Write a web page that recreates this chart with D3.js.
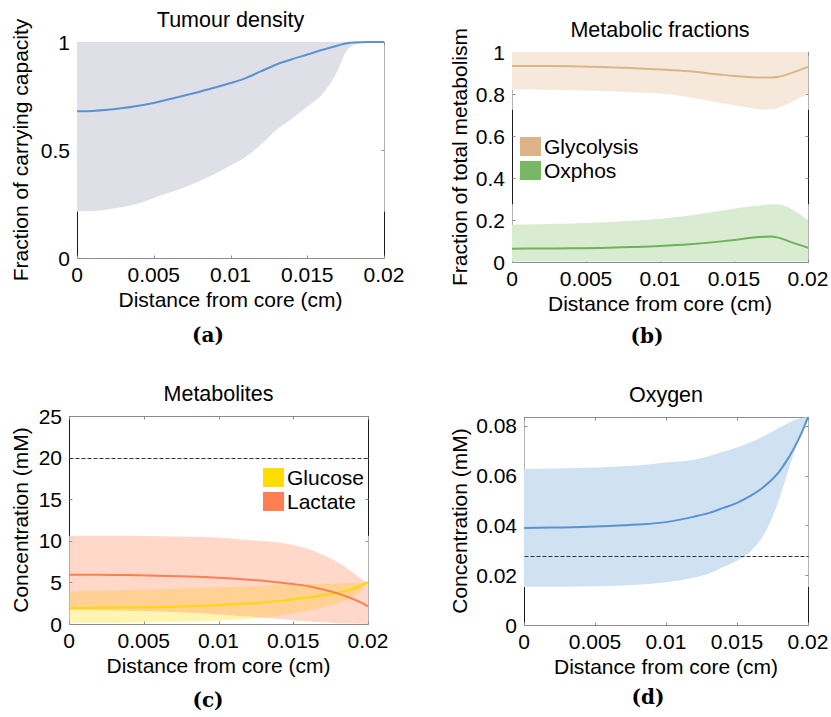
<!DOCTYPE html>
<html><head><meta charset="utf-8">
<script src="https://cdn.jsdelivr.net/npm/d3@7"></script>
<style>
body{margin:0;background:#fff}
svg text{font-family:"Liberation Sans",Arial,Helvetica,sans-serif;fill:#000}
</style>
</head><body>
<svg id="chart" width="831" height="717"></svg>
<script>
// ---------- shared ----------
const xTicks = [0, 0.005, 0.01, 0.015, 0.02];
const xTickLabels = ["0", "0.005", "0.01", "0.015", "0.02"];
const xAxisTitle = "Distance from core (cm)";

// ---------- (a) Tumour density ----------
const densityX     = [0,0.001,0.002,0.003,0.004,0.005,0.006,0.007,0.008,0.009,0.010,0.011,0.012,0.013,0.014,0.015,0.016,0.017,0.0175,0.018,0.019,0.020];
const densityMean  = [0.679,0.681,0.686,0.694,0.705,0.718,0.735,0.752,0.770,0.789,0.810,0.833,0.865,0.896,0.920,0.942,0.964,0.984,0.993,0.998,1.0,1.0];
const densityLower = [0.216,0.218,0.225,0.236,0.252,0.278,0.302,0.328,0.357,0.390,0.428,0.469,0.527,0.594,0.645,0.700,0.760,0.870,0.952,0.985,0.998,1.0];
const densityUpper = [1,1,1,1,1,1,1,1,1,1,1,1,1,1,1,1,1,1,1,1,1,1];
const densityYTicks = [0, 0.5, 1];
const densityYTickLabels = ["0", "0.5", "1"];

// ---------- (b) Metabolic fractions ----------
const metabX      = [0,0.002,0.004,0.006,0.008,0.010,0.012,0.014,0.015,0.016,0.017,0.0175,0.018,0.019,0.020];
const glycoMean   = [0.933,0.933,0.932,0.929,0.924,0.917,0.908,0.893,0.886,0.881,0.878,0.878,0.882,0.903,0.929];
const glycoLower  = [0.821,0.820,0.818,0.814,0.808,0.802,0.785,0.758,0.746,0.735,0.726,0.727,0.735,0.765,0.802];
const glycoUpper  = [1,1,1,1,1,1,1,1,1,1,1,1,1,1,1];
const oxphosMean  = [0.0635,0.064,0.065,0.067,0.071,0.076,0.084,0.097,0.105,0.114,0.120,0.122,0.116,0.091,0.068];
const oxphosLower = [0.002,0.002,0.002,0.002,0.002,0.002,0.002,0.002,0.002,0.002,0.002,0.002,0.002,0.002,0.002];
const oxphosUpper = [0.179,0.180,0.183,0.188,0.196,0.206,0.222,0.243,0.254,0.264,0.272,0.275,0.274,0.248,0.198];
const metabYTicks = [0, 0.2, 0.4, 0.6, 0.8, 1];
const metabYTickLabels = ["0", "0.2", "0.4", "0.6", "0.8", "1"];
const metabLegend = ["Glycolysis", "Oxphos"];

// ---------- (c) Metabolites ----------
const metaboliteX  = [0,0.002,0.004,0.006,0.008,0.010,0.012,0.014,0.015,0.016,0.017,0.018,0.019,0.0195,0.020];
const glucoseMean  = [1.92,1.94,1.97,2.02,2.12,2.25,2.45,2.75,2.95,3.20,3.45,3.75,4.25,4.60,5.00];
const glucoseLower = [0.10,0.12,0.15,0.20,0.28,0.40,0.60,1.00,1.30,1.60,2.00,2.50,3.30,4.00,5.00];
const glucoseUpper = [3.92,4.00,4.10,4.20,4.30,4.42,4.55,4.68,4.75,4.80,4.85,4.90,4.95,4.97,5.00];
const lactateMean  = [5.92,5.91,5.88,5.80,5.70,5.55,5.33,5.00,4.80,4.55,4.15,3.65,3.00,2.60,2.12];
const lactateLower = [1.70,1.65,1.58,1.50,1.35,1.15,0.90,0.60,0.45,0.30,0.20,0.10,0.05,0.02,0.00];
const lactateUpper = [10.6,10.6,10.6,10.55,10.5,10.4,10.1,9.8,9.5,9.0,8.3,7.4,6.2,5.5,4.9];
const metaboliteRef = 20;
const metaboliteYTicks = [0, 5, 10, 15, 20, 25];
const metaboliteYTickLabels = ["0", "5", "10", "15", "20", "25"];
const metaboliteLegend = ["Glucose", "Lactate"];

// ---------- (d) Oxygen ----------
const oxygenX     = [0,0.002,0.004,0.006,0.008,0.010,0.012,0.013,0.014,0.015,0.016,0.017,0.018,0.0185,0.019,0.0195,0.020];
const oxygenMean  = [0.0389,0.0391,0.0393,0.0397,0.0403,0.0413,0.0435,0.0449,0.0469,0.0490,0.0520,0.0560,0.0618,0.0660,0.0708,0.0765,0.0835];
const oxygenLower = [0.0154,0.0154,0.0155,0.0157,0.0162,0.0172,0.0191,0.0206,0.0232,0.0258,0.0298,0.0373,0.0510,0.0600,0.0688,0.0765,0.0835];
const oxygenUpper = [0.0626,0.0628,0.0630,0.0634,0.0640,0.0652,0.0663,0.0677,0.0695,0.0713,0.0735,0.0762,0.0793,0.0808,0.0822,0.0831,0.0835];
const oxygenRef = 0.0275;
const oxygenYMax = 0.0835;
const oxygenYTicks = [0, 0.02, 0.04, 0.06, 0.08];
const oxygenYTickLabels = ["0", "0.02", "0.04", "0.06", "0.08"];

// ---------- drawing ----------
const svg = d3.select("#chart");
const FONT = 21;

function zipBand(xs, lo, hi) { return xs.map((v, i) => ({x: v, lo: lo[i], hi: hi[i]})); }
function zipLine(xs, ys) { return xs.map((v, i) => ({x: v, y: ys[i]})); }

function panel(cfg) {
  const g = svg.append("g");
  const x = d3.scaleLinear().domain([0, 0.02]).range([cfg.x0, cfg.x1]);
  const y = d3.scaleLinear().domain(cfg.yDomain).range([cfg.yBot, cfg.yTop]);
  const L = Math.round(cfg.x0) + 0.5, R = Math.round(cfg.x1) + 0.5;
  const T = Math.round(cfg.yTop) + 0.5, B = Math.round(cfg.yBot) + 0.5;
  const gray = "#8c8c8c";

  // side lines: dark outside band ranges, light inside
  const ranges = cfg.bands.map(b => [d3.min(b.lo), d3.max(b.hi)]).sort((a, b) => a[0] - b[0]);
  let segs = []; let cur = cfg.yDomain[0];
  ranges.forEach(r => {
    if (r[0] > cur) segs.push({a: cur, b: r[0], dark: true});
    segs.push({a: Math.max(cur, r[0]), b: r[1], dark: false});
    cur = Math.max(cur, r[1]);
  });
  if (cur < cfg.yDomain[1]) segs.push({a: cur, b: cfg.yDomain[1], dark: true});
  [L, R].forEach(xx => {
    segs.forEach(s => {
      g.append("line").attr("x1", xx).attr("x2", xx)
        .attr("y1", y(s.a)).attr("y2", y(s.b))
        .attr("stroke", s.dark ? "#1a1a1a" : "#b4b4b4").attr("stroke-width", 1);
    });
  });
  g.append("line").attr("x1", L).attr("x2", R).attr("y1", T).attr("y2", T).attr("stroke", gray);
  g.append("line").attr("x1", L).attr("x2", R).attr("y1", B).attr("y2", B).attr("stroke", gray);

  // ticks (inside, mirrored)
  xTicks.forEach(t => {
    const xx = Math.round(x(t)) + 0.5;
    g.append("line").attr("x1", xx).attr("x2", xx).attr("y1", B).attr("y2", B - 3).attr("stroke", gray);
    g.append("line").attr("x1", xx).attr("x2", xx).attr("y1", T).attr("y2", T + 3).attr("stroke", gray);
  });
  cfg.yTicks.forEach(t => {
    const yy = Math.round(y(t)) + 0.5;
    g.append("line").attr("x1", L).attr("x2", L + 3).attr("y1", yy).attr("y2", yy).attr("stroke", gray);
    g.append("line").attr("x1", R).attr("x2", R - 3).attr("y1", yy).attr("y2", yy).attr("stroke", gray);
  });

  // bands
  const area = d3.area().x(d => x(d.x)).y0(d => y(d.lo)).y1(d => y(d.hi)).curve(d3.curveMonotoneX);
  cfg.bands.forEach(b => {
    g.append("path").datum(zipBand(b.x, b.lo, b.hi)).attr("d", area)
      .attr("fill", b.color).attr("fill-opacity", b.opacity === undefined ? 1 : b.opacity).attr("stroke", "none");
  });

  // reference line (drawn over the bands)
  if (cfg.ref !== undefined) {
    const ry = Math.round(y(cfg.ref)) + 0.5;
    g.append("line").attr("x1", L).attr("x2", R).attr("y1", ry).attr("y2", ry)
      .attr("stroke", "#333").attr("stroke-width", 1).attr("stroke-dasharray", "4,2");
  }

  // lines
  const line = d3.line().x(d => x(d.x)).y(d => y(d.y)).curve(d3.curveMonotoneX);
  cfg.lines.forEach(l => {
    g.append("path").datum(zipLine(l.x, l.y)).attr("d", line)
      .attr("fill", "none").attr("stroke", l.color).attr("stroke-width", 2);
  });

  // tick labels
  xTicks.forEach((t, i) => {
    g.append("text").attr("x", x(t)).attr("y", cfg.yBot + 24).attr("text-anchor", "middle")
      .attr("font-size", FONT).text(xTickLabels[i]);
  });
  cfg.yTicks.forEach((t, i) => {
    g.append("text").attr("x", cfg.x0 - 7).attr("y", y(t)).attr("dy", "0.36em").attr("text-anchor", "end")
      .attr("font-size", FONT).text(cfg.yTickLabels[i]);
  });
  // axis titles
  const cx = (cfg.x0 + cfg.x1) / 2, cy = (cfg.yTop + cfg.yBot) / 2;
  g.append("text").attr("x", cx).attr("y", cfg.yBot + 49).attr("text-anchor", "middle")
    .attr("font-size", FONT).text(xAxisTitle);
  g.append("text").attr("transform", `translate(${cfg.yLabelX},${cy}) rotate(-90)`)
    .attr("text-anchor", "middle").attr("font-size", FONT).text(cfg.yLabel);
  g.append("text").attr("x", cx).attr("y", cfg.yTop - 15).attr("text-anchor", "middle")
    .attr("font-size", 21.5).text(cfg.title);
  // sub-caption
  g.append("text").attr("x", cfg.capX).attr("y", cfg.capY).attr("text-anchor", "middle")
    .style("font-family", "'DejaVu Serif', 'Liberation Serif', serif").style("font-weight", "bold")
    .attr("font-size", 20).text(cfg.caption);

  // legend
  if (cfg.legend) {
    cfg.legend.items.forEach((it, i) => {
      const ly = cfg.legend.y + i * cfg.legend.step;
      g.append("rect").attr("x", cfg.legend.x).attr("y", ly).attr("width", 21).attr("height", 19).attr("fill", it.color);
      g.append("text").attr("x", cfg.legend.x + 24).attr("y", ly + 16.5).attr("font-size", FONT).text(it.label);
    });
  }
}

const blueLine = "#5b92d1";

panel({
  x0: 77, x1: 384, yTop: 42, yBot: 258, yDomain: [0, 1],
  yTicks: densityYTicks, yTickLabels: densityYTickLabels,
  title: "Tumour density", yLabel: "Fraction of carrying capacity", yLabelX: 28,
  caption: "(a)", capX: 208, capY: 342,
  bands: [{x: densityX, lo: densityLower, hi: densityUpper, color: "#dfe0e7"}],
  lines: [{x: densityX, y: densityMean, color: blueLine}]
});

panel({
  x0: 512, x1: 808, yTop: 52, yBot: 262, yDomain: [0, 1],
  yTicks: metabYTicks, yTickLabels: metabYTickLabels,
  title: "Metabolic fractions", yLabel: "Fraction of total metabolism", yLabelX: 467,
  caption: "(b)", capX: 647, capY: 343,
  bands: [
    {x: metabX, lo: glycoLower, hi: glycoUpper, color: "#f6e9db"},
    {x: metabX, lo: oxphosLower, hi: oxphosUpper, color: "#d9ebd1"}
  ],
  lines: [
    {x: metabX, y: glycoMean, color: "#dcb487"},
    {x: metabX, y: oxphosMean, color: "#6db35a"}
  ],
  legend: {x: 520, y: 137, step: 24, items: [
    {label: metabLegend[0], color: "#dcb487"},
    {label: metabLegend[1], color: "#78b865"}
  ]}
});

panel({
  x0: 69, x1: 368, yTop: 416, yBot: 624, yDomain: [0, 25],
  yTicks: metaboliteYTicks, yTickLabels: metaboliteYTickLabels,
  title: "Metabolites", yLabel: "Concentration (mM)", yLabelX: 28,
  caption: "(c)", capX: 208, capY: 707,
  ref: metaboliteRef,
  bands: [
    {x: metaboliteX, lo: glucoseLower, hi: glucoseUpper, color: "#ffdd00", opacity: 0.3},
    {x: metaboliteX, lo: lactateLower, hi: lactateUpper, color: "#ff7f50", opacity: 0.3}
  ],
  lines: [
    {x: metaboliteX, y: glucoseMean, color: "#ffd700"},
    {x: metaboliteX, y: lactateMean, color: "#ff7f50"}
  ],
  legend: {x: 263, y: 468, step: 24, items: [
    {label: metaboliteLegend[0], color: "#ffdd00"},
    {label: metaboliteLegend[1], color: "#ff7f50"}
  ]}
});

panel({
  x0: 524, x1: 808, yTop: 417, yBot: 625, yDomain: [0, oxygenYMax],
  yTicks: oxygenYTicks, yTickLabels: oxygenYTickLabels,
  title: "Oxygen", yLabel: "Concentration (mM)", yLabelX: 467,
  caption: "(d)", capX: 648, capY: 704,
  ref: oxygenRef,
  bands: [{x: oxygenX, lo: oxygenLower, hi: oxygenUpper, color: "#d0e1f1"}],
  lines: [{x: oxygenX, y: oxygenMean, color: blueLine}]
});
</script>
</body></html>
